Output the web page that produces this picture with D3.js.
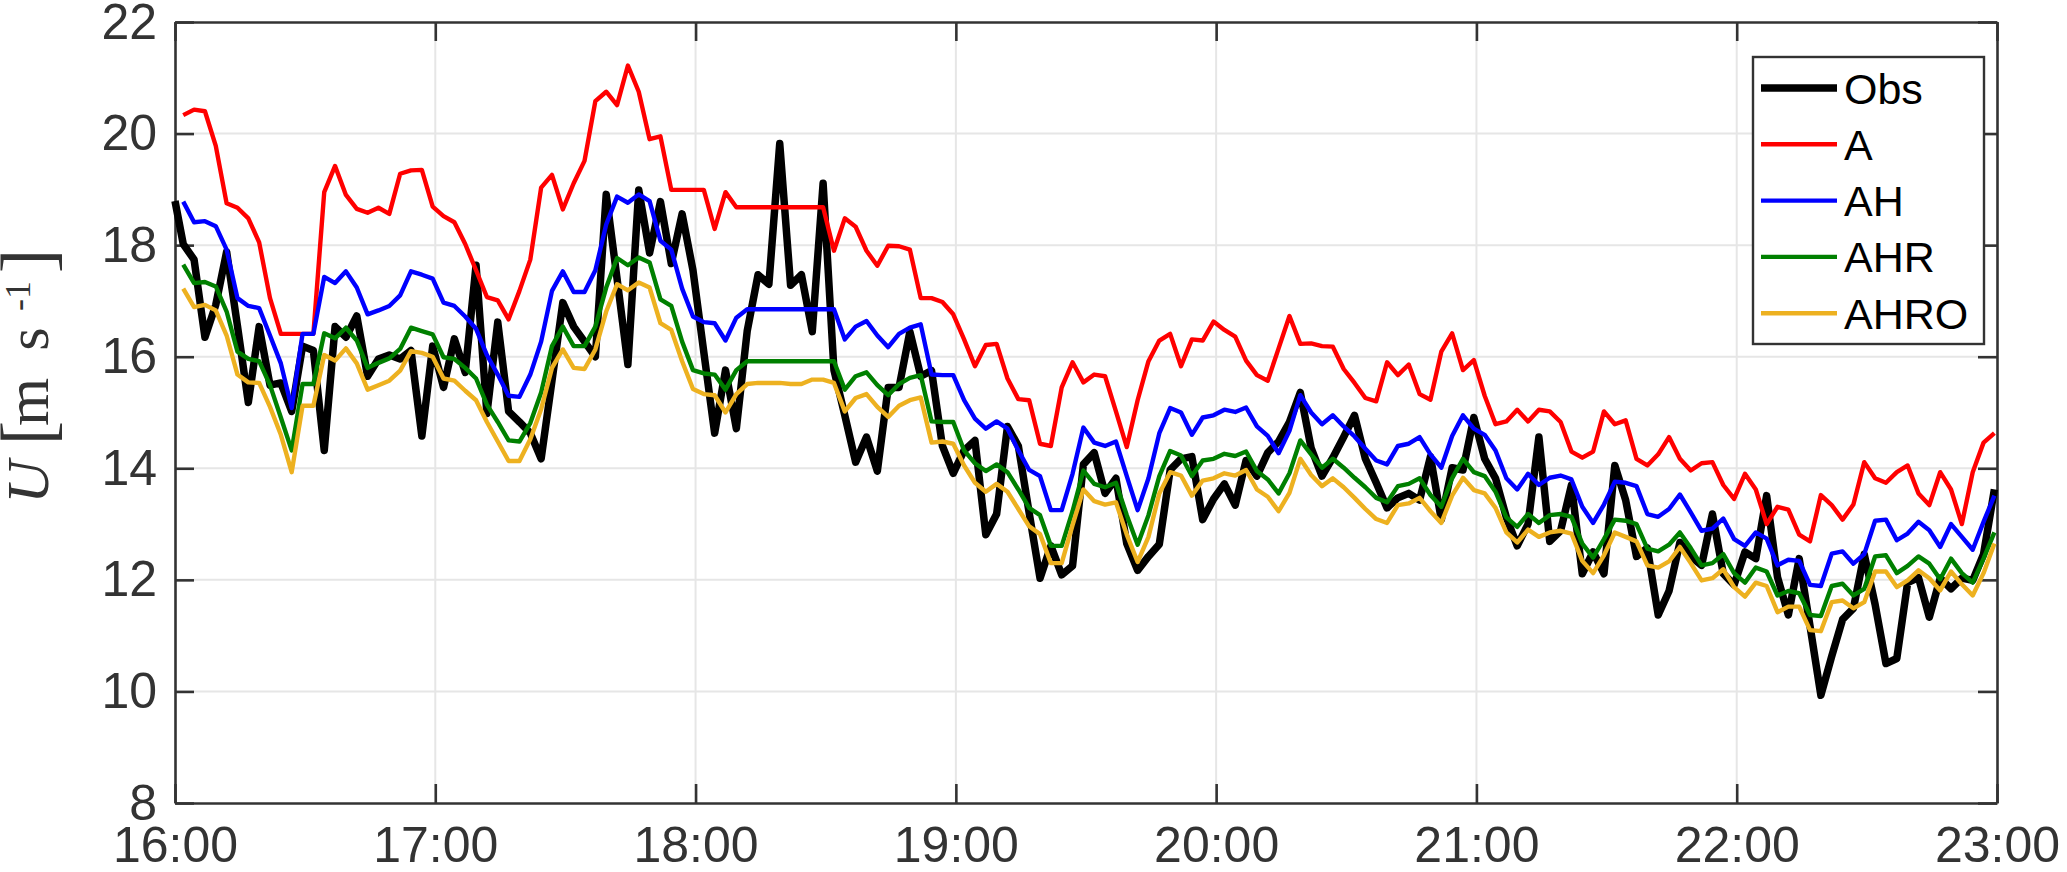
<!DOCTYPE html>
<html>
<head>
<meta charset="utf-8">
<script src="https://cdn.jsdelivr.net/npm/d3@7"></script>
<style>
  body { margin: 0; background: #fff; }
  svg { display: block; }
  text { font-family: "Liberation Sans", Arial, Helvetica, sans-serif; }
  text.serif { font-family: "Liberation Serif", "Times New Roman", serif; }
</style>
</head>
<body>
<svg id="chart"></svg>
<script>
// wind speed, one value every 2.5 min; Obs starts at 16:00, the runs one step later
const obs = [18.79,
  18.02,17.74,16.35,16.93,17.88,16.55,15.18,16.54,15.49,15.53,15.02,16.19,16.11,14.32,16.54,16.35,16.73,15.65,15.96,16.03,15.96,16.11,14.58,16.19,
  15.45,16.32,15.72,17.64,14.98,16.62,15.02,14.83,14.63,14.17,15.57,16.97,16.54,16.27,16.00,18.91,17.40,15.86,18.99,17.86,18.78,17.67,18.56,17.55,
  16.08,14.63,15.76,14.71,16.46,17.47,17.30,19.82,17.28,17.47,16.45,19.11,15.76,14.95,14.11,14.56,13.95,15.45,15.45,16.45,15.65,15.75,14.40,13.91,
  14.32,14.50,12.81,13.18,14.75,14.40,13.20,12.03,12.61,12.09,12.25,14.07,14.28,13.55,13.82,12.65,12.17,12.42,12.64,13.97,14.17,14.21,13.08,13.45,
  13.72,13.34,14.14,13.86,14.28,14.48,14.83,15.36,14.36,13.86,14.19,14.56,14.95,14.17,13.74,13.29,13.47,13.55,13.43,14.21,13.08,14.01,13.97,14.91,
  14.17,13.82,13.12,12.61,13.00,14.56,12.69,12.88,13.70,12.11,12.50,12.11,14.05,13.43,12.42,12.57,11.37,11.80,12.67,12.42,12.26,13.18,12.11,11.91,
  12.50,12.38,13.51,12.05,11.37,12.38,11.17,9.93,10.63,11.29,11.49,12.46,11.56,10.50,10.59,11.95,12.04,11.33,12.03,11.84,12.03,11.99,12.46,13.62];

const runA = [
  20.33,20.43,20.40,19.78,18.75,18.67,18.48,18.05,17.05,16.41,16.41,16.41,16.41,18.95,19.42,18.90,18.65,18.58,18.67,18.56,19.28,19.34,19.35,18.69,
  18.52,18.41,18.02,17.55,17.07,17.01,16.67,17.18,17.74,19.03,19.26,18.64,19.11,19.51,20.58,20.75,20.51,21.22,20.75,19.90,19.95,18.99,18.99,18.99,
  18.99,18.29,18.95,18.68,18.68,18.68,18.68,18.68,18.68,18.68,18.68,18.68,17.90,18.48,18.33,17.90,17.63,17.99,17.98,17.92,17.05,17.05,16.98,16.76,
  16.31,15.83,16.21,16.23,15.61,15.24,15.22,14.44,14.40,15.45,15.90,15.54,15.68,15.65,15.02,14.38,15.22,15.92,16.29,16.41,15.83,16.31,16.29,16.63,
  16.48,16.36,15.93,15.67,15.57,16.15,16.73,16.23,16.24,16.19,16.18,15.78,15.53,15.26,15.20,15.90,15.67,15.86,15.33,15.23,16.09,16.42,15.76,15.94,
  15.30,14.79,14.84,15.05,14.84,15.05,15.02,14.83,14.30,14.19,14.30,15.02,14.79,14.86,14.17,14.05,14.25,14.56,14.17,13.96,14.09,14.11,13.70,13.45,
  13.90,13.62,13.00,13.31,13.26,12.81,12.69,13.52,13.34,13.08,13.35,14.11,13.82,13.74,13.93,14.05,13.55,13.34,13.93,13.62,13.00,13.93,14.46,14.63];

const runAH = [
  18.78,18.41,18.43,18.34,17.92,17.05,16.91,16.87,16.38,15.88,15.08,16.41,16.41,17.43,17.32,17.53,17.24,16.76,16.83,16.91,17.10,17.53,17.47,17.40,
  16.97,16.91,16.72,16.50,16.03,15.68,15.30,15.28,15.68,16.27,17.18,17.53,17.16,17.16,17.55,18.37,18.87,18.76,18.91,18.79,18.08,17.92,17.22,16.72,
  16.62,16.60,16.29,16.70,16.85,16.85,16.85,16.85,16.85,16.85,16.85,16.85,16.85,16.31,16.54,16.64,16.38,16.17,16.41,16.52,16.58,15.68,15.67,15.67,
  15.22,14.89,14.71,14.84,14.71,14.32,13.97,13.86,13.25,13.25,13.90,14.73,14.46,14.40,14.48,13.86,13.25,13.82,14.63,15.08,15.00,14.60,14.91,14.95,
  15.05,15.01,15.09,14.75,14.58,14.27,14.67,15.31,15.00,14.79,14.95,14.75,14.57,14.35,14.14,14.07,14.40,14.44,14.56,14.25,14.01,14.58,14.95,14.71,
  14.60,14.32,13.82,13.62,13.90,13.70,13.83,13.87,13.80,13.31,13.02,13.35,13.76,13.74,13.68,13.18,13.13,13.27,13.53,13.21,12.88,12.92,13.10,12.73,
  12.61,12.85,12.74,12.26,12.36,12.34,11.91,11.89,12.47,12.51,12.29,12.46,13.06,13.08,12.71,12.83,13.04,12.89,12.59,13.00,12.77,12.54,13.04,13.51];

const runAHR = [
  17.65,17.32,17.34,17.26,16.81,16.09,15.96,15.92,15.49,14.91,14.32,15.51,15.51,16.42,16.33,16.52,16.29,15.80,15.89,15.97,16.14,16.52,16.46,16.40,
  15.99,15.96,15.80,15.61,15.14,14.83,14.50,14.48,14.81,15.36,16.19,16.54,16.19,16.19,16.54,17.24,17.77,17.64,17.78,17.69,17.03,16.91,16.27,15.76,
  15.70,15.68,15.41,15.76,15.92,15.92,15.92,15.92,15.92,15.92,15.92,15.92,15.92,15.41,15.65,15.72,15.49,15.31,15.51,15.62,15.67,14.84,14.83,14.83,
  14.32,14.09,13.95,14.07,13.93,13.62,13.29,13.16,12.61,12.61,13.23,13.96,13.72,13.66,13.74,13.16,12.63,13.16,13.86,14.31,14.23,13.86,14.14,14.17,
  14.26,14.22,14.30,13.95,13.80,13.55,13.91,14.50,14.25,14.01,14.17,14.01,13.83,13.66,13.47,13.39,13.68,13.72,13.82,13.52,13.31,13.82,14.17,13.93,
  13.86,13.58,13.12,12.95,13.18,13.02,13.16,13.18,13.13,12.65,12.40,12.73,13.08,13.06,13.00,12.56,12.51,12.63,12.85,12.57,12.26,12.30,12.46,12.12,
  11.95,12.22,12.15,11.72,11.80,11.76,11.37,11.35,11.89,11.93,11.72,11.84,12.42,12.44,12.12,12.25,12.42,12.29,12.01,12.38,12.12,11.95,12.38,12.85];

const runAHRO = [
  17.22,16.89,16.93,16.83,16.38,15.68,15.54,15.53,15.10,14.60,13.93,15.12,15.12,16.03,15.93,16.15,15.88,15.41,15.49,15.57,15.75,16.10,16.07,16.00,
  15.61,15.57,15.39,15.22,14.83,14.48,14.13,14.13,14.52,15.06,15.80,16.13,15.80,15.78,16.13,16.81,17.30,17.19,17.33,17.24,16.60,16.48,15.92,15.42,
  15.33,15.31,15.00,15.33,15.51,15.53,15.53,15.53,15.51,15.51,15.59,15.59,15.53,15.02,15.26,15.33,15.10,14.92,15.12,15.22,15.27,14.46,14.48,14.44,
  14.05,13.74,13.58,13.72,13.58,13.27,12.96,12.82,12.30,12.30,12.98,13.62,13.41,13.35,13.39,12.81,12.32,12.77,13.55,13.93,13.87,13.51,13.78,13.82,
  13.91,13.87,13.97,13.62,13.49,13.23,13.56,14.17,13.88,13.68,13.82,13.66,13.47,13.27,13.09,13.02,13.34,13.37,13.47,13.23,13.02,13.51,13.83,13.61,
  13.55,13.29,12.85,12.67,12.90,12.77,12.85,12.88,12.83,12.34,12.12,12.44,12.85,12.77,12.69,12.26,12.22,12.33,12.59,12.30,11.99,12.03,12.19,11.87,
  11.70,11.95,11.89,11.42,11.52,11.52,11.10,11.08,11.60,11.63,11.49,11.60,12.15,12.15,11.87,11.99,12.17,12.03,11.81,12.15,11.92,11.72,12.12,12.65];

const seriesNames = ['Obs','A','AH','AHR','AHRO'];
const seriesColors = ['#000000','#ff0000','#0000ff','#008000','#edb120'];
const seriesWidths = [7.5,4.4,4.4,4.4,4.4];
const yTicks = [8,10,12,14,16,18,20,22];
const xTickHours = [16,17,18,19,20,21,22,23];

const W = 2067, H = 872;
const day = (h,m) => new Date(2020,0,1,h,m||0);
const stepMin = 2.5, lagMin = 0.6;
// time of sample k (k=0 is 16:00)
const timeAt = k => k===0 ? day(16,0) : new Date(day(16,0).getTime() + (k*stepMin - lagMin)*60000);

const svg = d3.select('#chart').attr('width',W).attr('height',H);

const x = d3.scaleTime().domain([day(16), day(23)]).range([175,1997]);
const y = d3.scaleLinear().domain([8,22]).range([803,22]);
const axisColor = '#333333';

// grid
const grid = svg.append('g');
grid.selectAll('line.gy').data(yTicks.slice(1,-1)).enter().append('line')
  .attr('x1',x.range()[0]).attr('x2',x.range()[1])
  .attr('y1',d=>y(d)).attr('y2',d=>y(d))
  .style('stroke','#e6e6e6').style('stroke-width',2);
grid.selectAll('line.gx').data(xTickHours.slice(1,-1)).enter().append('line')
  .attr('x1',d=>x(day(d))).attr('x2',d=>x(day(d)))
  .attr('y1',y.range()[0]).attr('y2',y.range()[1])
  .style('stroke','#e6e6e6').style('stroke-width',2);

function styleAxis(g){
  g.selectAll('.domain').style('stroke',axisColor).style('stroke-width',2.6);
  g.selectAll('.tick line').style('stroke',axisColor).style('stroke-width',2.6);
  g.selectAll('.tick text').style('fill',axisColor).style('font-size','50px')
    .style('font-family','"Liberation Sans", Arial, Helvetica, sans-serif');
}
const noLabels = g => g.selectAll('.tick text').remove();

const xTickDates = xTickHours.map(h=>day(h));
svg.append('g').attr('transform','translate(0,803)')
  .call(d3.axisBottom(x).tickValues(xTickDates).tickFormat(d3.timeFormat('%H:%M')).tickSizeInner(-19).tickSizeOuter(0).tickPadding(23))
  .call(styleAxis);
svg.append('g').attr('transform','translate(0,22)')
  .call(d3.axisTop(x).tickValues(xTickDates).tickSizeInner(-19).tickSizeOuter(0))
  .call(styleAxis).call(noLabels);
svg.append('g').attr('transform','translate(175,0)')
  .call(d3.axisLeft(y).tickValues(yTicks).tickSizeInner(-19).tickSizeOuter(0).tickPadding(18))
  .call(styleAxis);
svg.append('g').attr('transform','translate(1997,0)')
  .call(d3.axisRight(y).tickValues(yTicks).tickSizeInner(-19).tickSizeOuter(0))
  .call(styleAxis).call(noLabels);

// y label, pieces placed along the rotated axis
const ylab = svg.append('g')
  .attr('transform','translate(48,382) rotate(-90)');
const labelParts = [
  {t:'U',  x:-100, y:0,   size:60, italic:true},
  {t:'[',  x:-51,  y:4,   size:73},
  {t:'m',  x:-20,  y:0,   size:62},
  {t:'s',  x:43,   y:0,   size:60},
  {t:'-1', x:86,   y:-18, size:36},
  {t:']',  x:121,  y:4,   size:73}
];
ylab.selectAll('text').data(labelParts).enter().append('text')
  .attr('class','serif')
  .attr('x',d=>d.x).attr('y',d=>d.y)
  .attr('text-anchor','middle')
  .style('font-size',d=>d.size+'px')
  .style('font-style',d=>d.italic?'italic':'normal')
  .style('fill',axisColor)
  .text(d=>d.t);

// lines
const allSeries = [obs, runA, runAH, runAHR, runAHRO];
const line = d3.line().x(d=>x(d.t)).y(d=>y(d.v));
const plot = svg.append('g');
allSeries.forEach((vals,i)=>{
  const start = i===0 ? 0 : 1;
  const pts = vals.map((v,j)=>({t:timeAt(j+start), v:v}));
  plot.append('path').datum(pts)
    .attr('d',line)
    .style('fill','none')
    .style('stroke',seriesColors[i])
    .style('stroke-width',seriesWidths[i])
    .style('stroke-linejoin','round');
});

// legend
const lg = svg.append('g');
lg.append('rect').attr('x',1753).attr('y',57).attr('width',231).attr('height',287)
  .style('fill','#fff').style('stroke',axisColor).style('stroke-width',2.4);
seriesNames.forEach((name,i)=>{
  const yy = 88 + i*56.3;
  lg.append('line').attr('x1',1761).attr('x2',1837).attr('y1',yy).attr('y2',yy)
    .style('stroke',seriesColors[i]).style('stroke-width',seriesWidths[i]);
  lg.append('text').attr('x',1844).attr('y',yy+15.5)
    .style('font-size','43px').style('fill','#000').text(name);
});
</script>
</body>
</html>
